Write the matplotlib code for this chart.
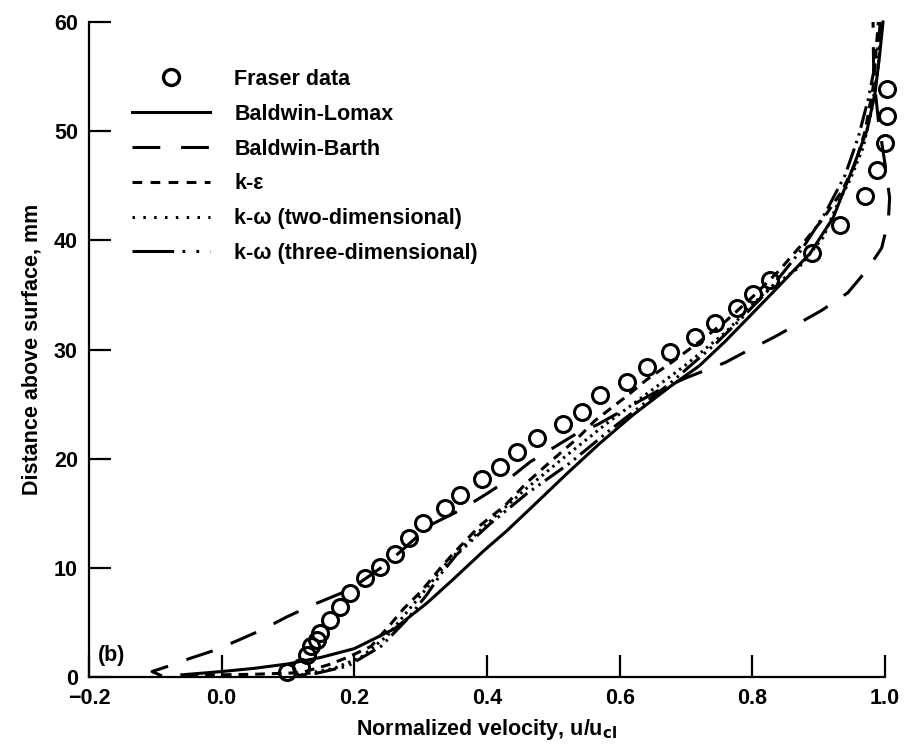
import numpy as np
import matplotlib
matplotlib.use("Agg")
import matplotlib.pyplot as plt
from matplotlib.lines import Line2D

plt.rcParams['font.family'] = ['Liberation Sans', 'DejaVu Sans']
plt.rcParams['font.weight'] = 'bold'
plt.rcParams['lines.scale_dashes'] = False

# ---------------- data ----------------
fraser_u = [0.098, 0.12, 0.128, 0.135, 0.143, 0.148, 0.163, 0.178, 0.193, 0.216,
            0.238, 0.262, 0.282, 0.303, 0.336, 0.359, 0.392, 0.419, 0.445, 0.475,
            0.514, 0.543, 0.570, 0.611, 0.641, 0.676, 0.713, 0.744, 0.777, 0.801,
            0.827, 0.89, 0.932, 0.970, 0.988, 1.0, 1.003, 1.003]
fraser_y = [0.5, 0.95, 2.0, 2.8, 3.4, 4.0, 5.2, 6.4, 7.7, 9.1,
            10.1, 11.3, 12.7, 14.1, 15.5, 16.7, 18.1, 19.2, 20.6, 21.9,
            23.2, 24.3, 25.8, 27.0, 28.4, 29.8, 31.1, 32.4, 33.8, 35.1,
            36.4, 38.8, 41.4, 44.1, 46.4, 48.9, 51.4, 53.9]

bl_u = [-0.06, 0.0, 0.05, 0.1, 0.15, 0.2, 0.26, 0.31, 0.35, 0.394, 0.43, 0.47,
        0.52, 0.57, 0.62, 0.676, 0.72, 0.76, 0.80, 0.84, 0.887, 0.922, 0.952,
        0.973, 0.985, 0.992, 0.997]
bl_y = [0.2, 0.5, 0.8, 1.2, 1.8, 2.6, 4.4, 6.8, 9.0, 11.5, 13.4, 15.7,
        18.6, 21.4, 24.0, 26.6, 28.5, 30.8, 33.3, 35.8, 38.8, 42.1, 46.7,
        50.1, 53.5, 57.0, 60.0]

bb_u = [-0.09, -0.105, -0.08, -0.048, -0.008, 0.03, 0.06, 0.098, 0.137, 0.193,
        0.24, 0.266, 0.314, 0.36, 0.40, 0.43, 0.465, 0.50, 0.535, 0.566, 0.61,
        0.66, 0.70, 0.759, 0.793, 0.835, 0.905, 0.944, 0.973, 0.995, 1.005,
        1.007, 1.0, 0.99, 0.983, 0.982]
bb_y = [0.1, 0.5, 1.0, 1.7, 2.5, 3.5, 4.3, 5.5, 6.6, 8.0,
        10.0, 11.3, 13.9, 15.3, 16.8, 18.0, 19.7, 21.0, 22.3, 23.1, 24.6,
        26.3, 27.4, 28.8, 29.9, 31.2, 33.6, 35.2, 37.3, 39.3, 41.8,
        43.9, 47.0, 51.0, 55.0, 60.0]

ke_u = [-0.05, 0.05, 0.12, 0.16, 0.19, 0.225, 0.25, 0.275, 0.30, 0.33, 0.349,
        0.39, 0.427, 0.46, 0.497, 0.537, 0.563, 0.61, 0.64, 0.68, 0.72, 0.76,
        0.80, 0.84, 0.88, 0.907, 0.935, 0.955, 0.97, 0.982, 0.99]
ke_y = [0.15, 0.25, 0.4, 1.1, 1.8, 2.8, 4.5, 6.3, 7.8, 10.0, 11.3,
        13.9, 15.7, 17.8, 19.8, 21.9, 23.5, 25.7, 27.2, 28.9, 30.7, 32.6,
        34.8, 37.2, 40.0, 42.0, 44.5, 47.0, 50.0, 54.0, 60.0]

kw2_u = [0.12, 0.17, 0.21, 0.25, 0.28, 0.31, 0.34, 0.37, 0.41, 0.46, 0.52,
         0.58, 0.64, 0.70, 0.76, 0.82, 0.87, 0.907, 0.929, 0.947, 0.967,
         0.98, 0.99, 0.995]
kw2_y = [0.2, 0.8, 1.8, 3.8, 6.0, 8.2, 10.5, 12.3, 14.6, 17.3, 20.3,
         23.2, 25.9, 28.6, 31.6, 35.3, 37.5, 40.3, 43.4, 45.5, 48.5,
         52.0, 56.0, 60.0]

kw3_u = [0.14, 0.19, 0.24, 0.28, 0.31, 0.33, 0.354, 0.404, 0.46, 0.525, 0.585,
         0.64, 0.676, 0.746, 0.786, 0.83, 0.875, 0.91, 0.94, 0.96, 0.975,
         0.988, 0.993]
kw3_y = [0.3, 1.0, 2.8, 5.3, 7.6, 9.4, 11.2, 14.0, 16.8, 19.6, 22.6,
         25.2, 26.9, 30.6, 33.0, 35.8, 39.2, 42.5, 46.0, 49.5, 53.0,
         57.0, 60.0]

x_ticks = [-0.2, 0.0, 0.2, 0.4, 0.6, 0.8, 1.0]
y_ticks = [0, 10, 20, 30, 40, 50, 60]

labels = ["Fraser data", "Baldwin-Lomax", "Baldwin-Barth", "k-\u03b5",
          "k-\u03c9 (two-dimensional)", "k-\u03c9 (three-dimensional)"]

# ---------------- figure ----------------
fig = plt.figure(figsize=(9.12, 7.44), dpi=100)
ax = fig.add_axes([89/912, 1-677/744, (885-89)/912, (677-22)/744])

FS = 15.5
lw = 2.2
dash_bb = (0, (20, 14))
dash_ke = (0, (7, 5))
dash_kw2 = (0, (1.8, 3.2))
dash_kw3 = (0, (16, 4, 1.8, 4, 1.8, 4))

ax.plot(bl_u, bl_y, color='black', lw=lw, clip_on=False)
ax.plot(bb_u, bb_y, color='black', lw=lw, linestyle=dash_bb, clip_on=False)
ax.plot(ke_u, ke_y, color='black', lw=lw, linestyle=dash_ke, clip_on=False)
ax.plot(kw2_u, kw2_y, color='black', lw=lw, linestyle=dash_kw2, clip_on=False)
ax.plot(kw3_u, kw3_y, color='black', lw=lw, linestyle=dash_kw3, clip_on=False)
ax.plot(fraser_u, fraser_y, linestyle='none', marker='o', markersize=11.5,
        markerfacecolor='none', markeredgecolor='black', markeredgewidth=2.2,
        clip_on=False)

ax.set_xlim(-0.2, 1.0)
ax.set_ylim(0, 60)
ax.set_xticks(x_ticks)
ax.set_yticks(y_ticks)
ax.set_xticklabels([f"{v:.1f}".replace('-', '\u2212') for v in x_ticks])
ax.set_yticklabels([str(v) for v in y_ticks])

for s in ['top', 'right']:
    ax.spines[s].set_visible(False)
for s in ['left', 'bottom']:
    ax.spines[s].set_linewidth(1.6)
ax.tick_params(direction='in', length=16, width=1.6, labelsize=FS, pad=8)

ax.set_xlabel("Normalized velocity, u/u$_{\\mathbf{cl}}$", fontsize=FS,
              fontweight='bold', labelpad=6)
ax.set_ylabel("Distance above surface, mm", fontsize=FS, fontweight='bold',
              labelpad=8)

ax.text(-0.166, 2.0, "(b)", fontsize=FS, fontweight='bold',
        ha='center', va='center')

handles = [
    Line2D([], [], linestyle='none', marker='o', markersize=11.5,
           markerfacecolor='none', markeredgecolor='black', markeredgewidth=2.4),
    Line2D([], [], color='black', lw=lw),
    Line2D([], [], color='black', lw=lw, linestyle=(0, (20, 15))),
    Line2D([], [], color='black', lw=lw, linestyle=(0, (7, 6))),
    Line2D([], [], color='black', lw=lw, linestyle=(0, (1.8, 6))),
    Line2D([], [], color='black', lw=lw, linestyle=(0, (30, 6, 2, 8, 2, 8))),
]
leg = ax.legend(handles, labels, loc='upper left',
                bbox_to_anchor=(132/912, 1-69/744), bbox_transform=fig.transFigure,
                frameon=False, borderpad=0, borderaxespad=0,
                handlelength=3.6, handletextpad=1.15, labelspacing=0.64,
                prop={'size': FS, 'weight': 'bold'})

fig.savefig("out.png", dpi=100)
